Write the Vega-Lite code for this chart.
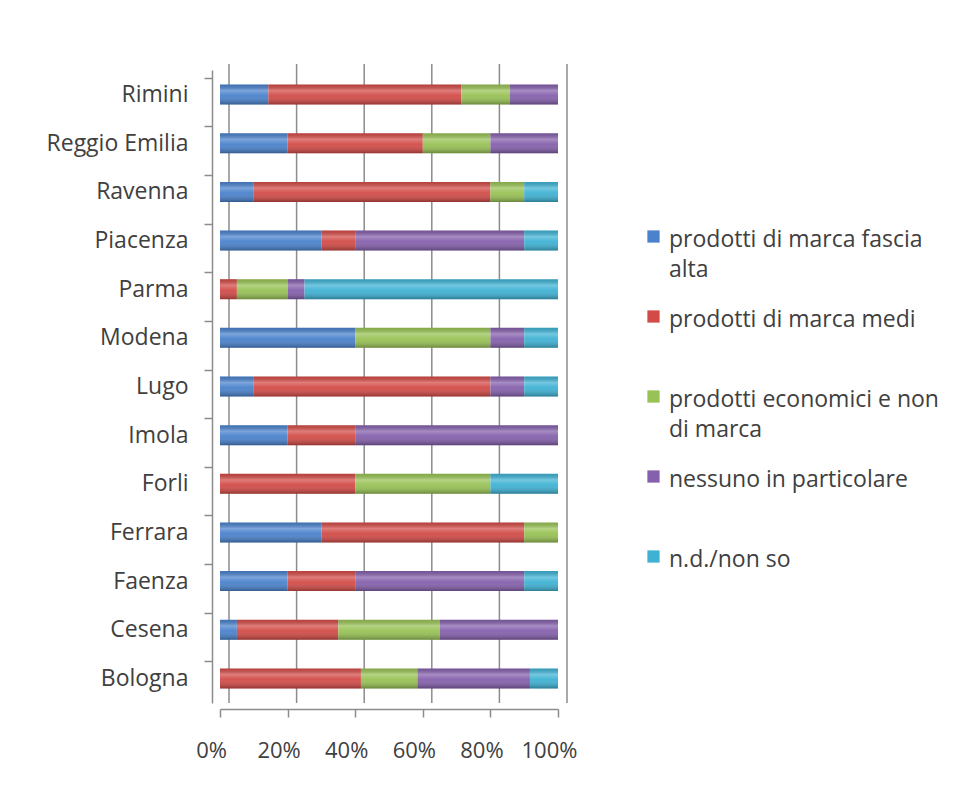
{
  "$schema": "https://vega.github.io/schema/vega-lite/v6.json",
  "autosize": {"type": "none"},
  "width": 338,
  "height": 633,
  "padding": {"left": 220, "top": 70, "right": 400, "bottom": 105},
  "background": "white",
  "config": {
    "font": "Open Sans",
    "view": {"stroke": null},
    "axis": {"labelFont": "Open Sans", "labelColor": "#404040", "labelFontSize": 22}
  },
  "data": {
    "values": [
      {"city": "Rimini", "pref": "prodotti di marca fascia alta", "share": 0.143},
      {"city": "Rimini", "pref": "prodotti di marca medi", "share": 0.571},
      {"city": "Rimini", "pref": "prodotti economici e non di marca", "share": 0.143},
      {"city": "Rimini", "pref": "nessuno in particolare", "share": 0.143},
      {"city": "Reggio Emilia", "pref": "prodotti di marca fascia alta", "share": 0.2},
      {"city": "Reggio Emilia", "pref": "prodotti di marca medi", "share": 0.4},
      {"city": "Reggio Emilia", "pref": "prodotti economici e non di marca", "share": 0.2},
      {"city": "Reggio Emilia", "pref": "nessuno in particolare", "share": 0.2},
      {"city": "Ravenna", "pref": "prodotti di marca fascia alta", "share": 0.1},
      {"city": "Ravenna", "pref": "prodotti di marca medi", "share": 0.7},
      {"city": "Ravenna", "pref": "prodotti economici e non di marca", "share": 0.1},
      {"city": "Ravenna", "pref": "n.d./non so", "share": 0.1},
      {"city": "Piacenza", "pref": "prodotti di marca fascia alta", "share": 0.3},
      {"city": "Piacenza", "pref": "prodotti di marca medi", "share": 0.1},
      {"city": "Piacenza", "pref": "nessuno in particolare", "share": 0.5},
      {"city": "Piacenza", "pref": "n.d./non so", "share": 0.1},
      {"city": "Parma", "pref": "prodotti di marca medi", "share": 0.05},
      {"city": "Parma", "pref": "prodotti economici e non di marca", "share": 0.15},
      {"city": "Parma", "pref": "nessuno in particolare", "share": 0.05},
      {"city": "Parma", "pref": "n.d./non so", "share": 0.75},
      {"city": "Modena", "pref": "prodotti di marca fascia alta", "share": 0.4},
      {"city": "Modena", "pref": "prodotti economici e non di marca", "share": 0.4},
      {"city": "Modena", "pref": "nessuno in particolare", "share": 0.1},
      {"city": "Modena", "pref": "n.d./non so", "share": 0.1},
      {"city": "Lugo", "pref": "prodotti di marca fascia alta", "share": 0.1},
      {"city": "Lugo", "pref": "prodotti di marca medi", "share": 0.7},
      {"city": "Lugo", "pref": "nessuno in particolare", "share": 0.1},
      {"city": "Lugo", "pref": "n.d./non so", "share": 0.1},
      {"city": "Imola", "pref": "prodotti di marca fascia alta", "share": 0.2},
      {"city": "Imola", "pref": "prodotti di marca medi", "share": 0.2},
      {"city": "Imola", "pref": "nessuno in particolare", "share": 0.6},
      {"city": "Forli", "pref": "prodotti di marca medi", "share": 0.4},
      {"city": "Forli", "pref": "prodotti economici e non di marca", "share": 0.4},
      {"city": "Forli", "pref": "n.d./non so", "share": 0.2},
      {"city": "Ferrara", "pref": "prodotti di marca fascia alta", "share": 0.3},
      {"city": "Ferrara", "pref": "prodotti di marca medi", "share": 0.6},
      {"city": "Ferrara", "pref": "prodotti economici e non di marca", "share": 0.1},
      {"city": "Faenza", "pref": "prodotti di marca fascia alta", "share": 0.2},
      {"city": "Faenza", "pref": "prodotti di marca medi", "share": 0.2},
      {"city": "Faenza", "pref": "nessuno in particolare", "share": 0.5},
      {"city": "Faenza", "pref": "n.d./non so", "share": 0.1},
      {"city": "Cesena", "pref": "prodotti di marca fascia alta", "share": 0.05},
      {"city": "Cesena", "pref": "prodotti di marca medi", "share": 0.3},
      {"city": "Cesena", "pref": "prodotti economici e non di marca", "share": 0.3},
      {"city": "Cesena", "pref": "nessuno in particolare", "share": 0.35},
      {"city": "Bologna", "pref": "prodotti di marca medi", "share": 0.417},
      {"city": "Bologna", "pref": "prodotti economici e non di marca", "share": 0.167},
      {"city": "Bologna", "pref": "nessuno in particolare", "share": 0.333},
      {"city": "Bologna", "pref": "n.d./non so", "share": 0.083}
    ]
  },
  "encoding": {
    "y": {
      "field": "city",
      "type": "nominal",
      "title": null,
      "scale": {
        "domain": ["Rimini", "Reggio Emilia", "Ravenna", "Piacenza", "Parma", "Modena", "Lugo", "Imola", "Forli", "Ferrara", "Faenza", "Cesena", "Bologna"],
        "paddingInner": 0.59,
        "paddingOuter": 0.3
      },
      "axis": {
        "offset": 8,
        "domainColor": "#8c8c8c",
        "domainWidth": 1.5,
        "ticks": true,
        "tickColor": "#8c8c8c",
        "tickWidth": 1.5,
        "tickSize": 8,
        "tickOffset": -17,
        "labelOffset": 17,
        "labelPadding": 16,
        "labelFontSize": 23
      }
    }
  },
  "layer": [
    {
      "data": {"values": [{"v": 0}, {"v": 0.2}, {"v": 0.4}, {"v": 0.6}, {"v": 0.8}, {"v": 1}]},
      "mark": {"type": "rule", "color": "#8c8c8c", "strokeWidth": 1.5, "xOffset": 9, "yOffset": -6},
      "encoding": {
        "x": {"field": "v", "type": "quantitative", "scale": {"domain": [0, 1]}},
        "y": null
      }
    },
    {
      "transform": [
        {"calculate": "indexof(['prodotti di marca fascia alta', 'prodotti di marca medi', 'prodotti economici e non di marca', 'nessuno in particolare', 'n.d./non so'], datum.pref)", "as": "stackRank"}
      ],
      "mark": {"type": "bar", "size": 20},
      "encoding": {
        "x": {
          "field": "share",
          "type": "quantitative",
          "stack": "zero",
          "title": null,
          "scale": {"domain": [0, 1], "nice": false},
          "axis": {
            "format": "%",
            "values": [0, 0.2, 0.4, 0.6, 0.8, 1],
            "grid": false,
            "offset": 6,
            "domainColor": "#8c8c8c",
            "domainWidth": 1.5,
            "tickColor": "#8c8c8c",
            "tickWidth": 1.5,
            "tickSize": 8,
            "labelPadding": 23,
            "labelOffset": -9,
            "labelFlush": false,
            "labelOverlap": false
          }
        },
        "color": {
          "field": "pref",
          "type": "nominal",
          "sort": ["prodotti di marca fascia alta", "prodotti di marca medi", "prodotti economici e non di marca", "nessuno in particolare", "n.d./non so"],
          "scale": {
            "domain": ["prodotti di marca fascia alta", "prodotti di marca medi", "prodotti economici e non di marca", "nessuno in particolare", "n.d./non so"],
            "range": ["#4a82cc", "#d24b47", "#98c255", "#8560ac", "#3fb2d4"]
          },
          "legend": {
            "title": null,
            "orient": "none",
            "legendX": 422,
            "legendY": 155,
            "symbolType": "square",
            "symbolSize": 150,
            "symbolStrokeWidth": 0,
            "labelFont": "Open Sans",
            "labelFontSize": 23,
            "labelColor": "#404040",
            "labelOffset": 4,
            "labelLimit": 400,
            "labelBaseline": "top",
            "labelExpr": "datum.label == 'prodotti di marca fascia alta' ? ['prodotti di marca fascia', 'alta'] : datum.label == 'prodotti economici e non di marca' ? ['prodotti economici e non', 'di marca'] : [datum.label, '']",
            "gridAlign": "all",
            "rowPadding": 23,
            "encode": {"labels": {"update": {"lineHeight": {"value": 30}, "dy": {"value": -8}}}}
          }
        },
        "order": {"field": "stackRank", "type": "quantitative"}
      }
    },
    {
      "mark": {
        "type": "bar",
        "size": 20,
        "fill": {
          "gradient": "linear",
          "x1": 0, "y1": 0, "x2": 0, "y2": 1,
          "stops": [
            {"offset": 0, "color": "rgba(0,0,0,0.12)"},
            {"offset": 0.3, "color": "rgba(255,255,255,0.28)"},
            {"offset": 0.55, "color": "rgba(255,255,255,0.05)"},
            {"offset": 1, "color": "rgba(0,0,0,0.3)"}
          ]
        }
      },
      "encoding": {
        "x": {"aggregate": "sum", "field": "share", "type": "quantitative"}
      }
    }
  ]
}
